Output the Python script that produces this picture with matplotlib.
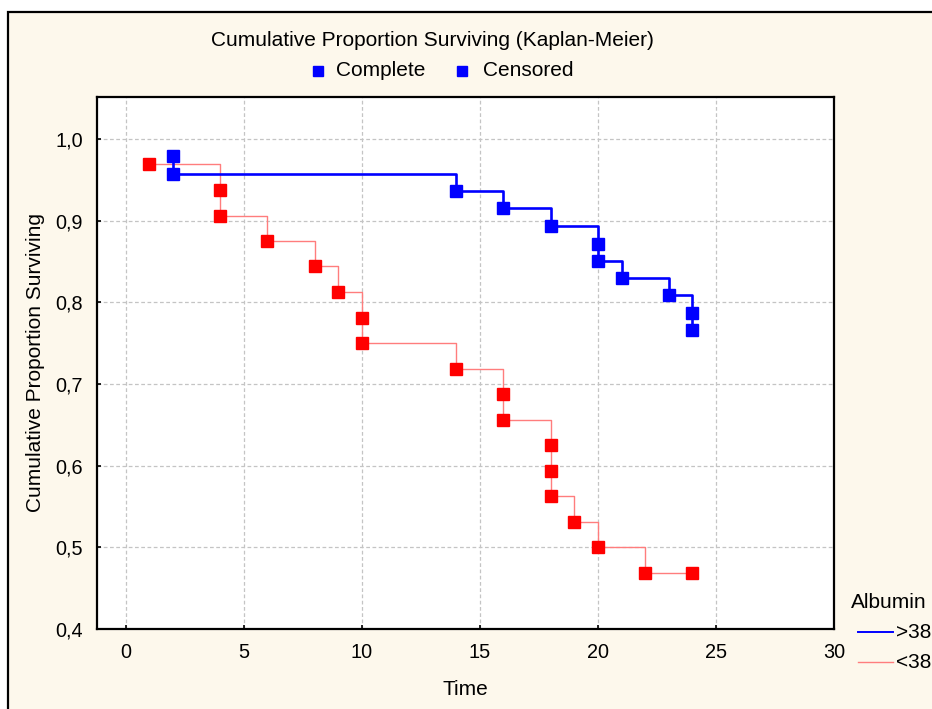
"""
Kaplan-Meier survival curves by albumin group (>38 vs <38)
"""
import matplotlib
matplotlib.use("Agg")
import matplotlib.pyplot as plt
from matplotlib.lines import Line2D
from matplotlib.patches import Rectangle
from matplotlib.ticker import FuncFormatter, MultipleLocator

plt.rcParams['font.family'] = ['Liberation Sans', 'DejaVu Sans']

# survival estimates, albumin > 38
hi_times = [2, 2, 14, 16, 18, 20, 20, 21, 23, 24, 24]
hi_surv = [0.979, 0.957, 0.936, 0.915, 0.894, 0.872, 0.851, 0.830, 0.809,
           0.787, 0.766]

# survival estimates, albumin < 38
lo_times = [1, 4, 4, 6, 8, 9, 10, 10, 14, 16, 16, 18, 18, 18, 19, 20, 22, 24]
lo_surv = [0.969, 0.938, 0.906, 0.875, 0.844, 0.813, 0.781, 0.750, 0.719,
           0.688, 0.656, 0.625, 0.594, 0.563, 0.531, 0.500, 0.469, 0.469]

group_labels = ['>38', '<38']
point_labels = ['Complete', 'Censored']

BG = '#fdf8ec'
HI_LINE = '#0000ff'
LO_LINE = '#ff7d7d'
HI_MARK = '#0000ff'
LO_MARK = '#ff0000'
FS = 15

W, H = 932, 709
fig = plt.figure(figsize=(W / 100, H / 100), dpi=100)
fig.patch.set_facecolor('white')

# cream panel with a black frame, cut by the right and bottom edges
frame = Rectangle((7.5 / W, -0.05), 1.1, 1 - 11.5 / H + 0.05,
                  transform=fig.transFigure, facecolor=BG,
                  edgecolor='black', linewidth=1.6, zorder=-10)
fig.add_artist(frame)

ax = fig.add_axes([96.7 / W, 1 - 629 / H, (834 - 96.7) / W, (629 - 97) / H])
ax.set_facecolor('white')

ax.step(lo_times, lo_surv, where='post', color=LO_LINE, lw=1.0, zorder=3)
ax.step(hi_times, hi_surv, where='post', color=HI_LINE, lw=1.9, zorder=4)
ax.plot(lo_times, lo_surv, ls='none', marker='s', ms=8, color=LO_MARK,
        mec=LO_MARK, zorder=5)
ax.plot(hi_times, hi_surv, ls='none', marker='s', ms=8, color=HI_MARK,
        mec=HI_MARK, zorder=6)

ax.set_xlim(-1.23, 30)
ax.set_ylim(0.4, 1.0515)
ax.xaxis.set_major_locator(MultipleLocator(5))
ax.yaxis.set_major_locator(MultipleLocator(0.1))
ax.yaxis.set_major_formatter(FuncFormatter(lambda v, p: f"{v:.1f}".replace('.', ',')))
ax.grid(True, color='#c4c4c4', ls=(0, (3, 2)), lw=0.9)
ax.set_axisbelow(True)
ax.tick_params(direction='in', length=3, width=1.2, labelsize=14.3, pad=10,
               colors='black')
for s in ax.spines.values():
    s.set_linewidth(1.6)

ax.set_xlabel('Time', fontsize=FS, labelpad=13)
ax.set_ylabel('Cumulative Proportion Surviving', fontsize=FS)
ax.yaxis.set_label_coords((45 - 96.7) / (834 - 96.7), 0.5)

# title and point-type key
fig.text(432 / W, 1 - 40 / H, 'Cumulative Proportion Surviving (Kaplan-Meier)',
         ha='center', va='center', fontsize=FS)
for xm, xt, lab in [(318, 336, point_labels[0]), (462, 483, point_labels[1])]:
    fig.add_artist(Line2D([xm / W], [1 - 71 / H], marker='s', ms=7,
                          color=HI_MARK, ls='none', transform=fig.transFigure))
    fig.text(xt / W, 1 - 71 / H, lab, ha='left', va='center', fontsize=FS)

# group key at lower right
fig.text(851 / W, 1 - 603 / H, 'Albumin', ha='left', va='center', fontsize=FS)
for yy, col, lw, lab in [(632, HI_LINE, 1.4, group_labels[0]),
                         (662, LO_LINE, 1.0, group_labels[1])]:
    fig.add_artist(Line2D([858 / W, 893 / W], [1 - yy / H, 1 - yy / H],
                          color=col, lw=lw, transform=fig.transFigure))
    fig.text(896 / W, 1 - yy / H, lab, ha='left', va='center', fontsize=FS)

fig.savefig('out.png', dpi=100, facecolor=fig.get_facecolor())
